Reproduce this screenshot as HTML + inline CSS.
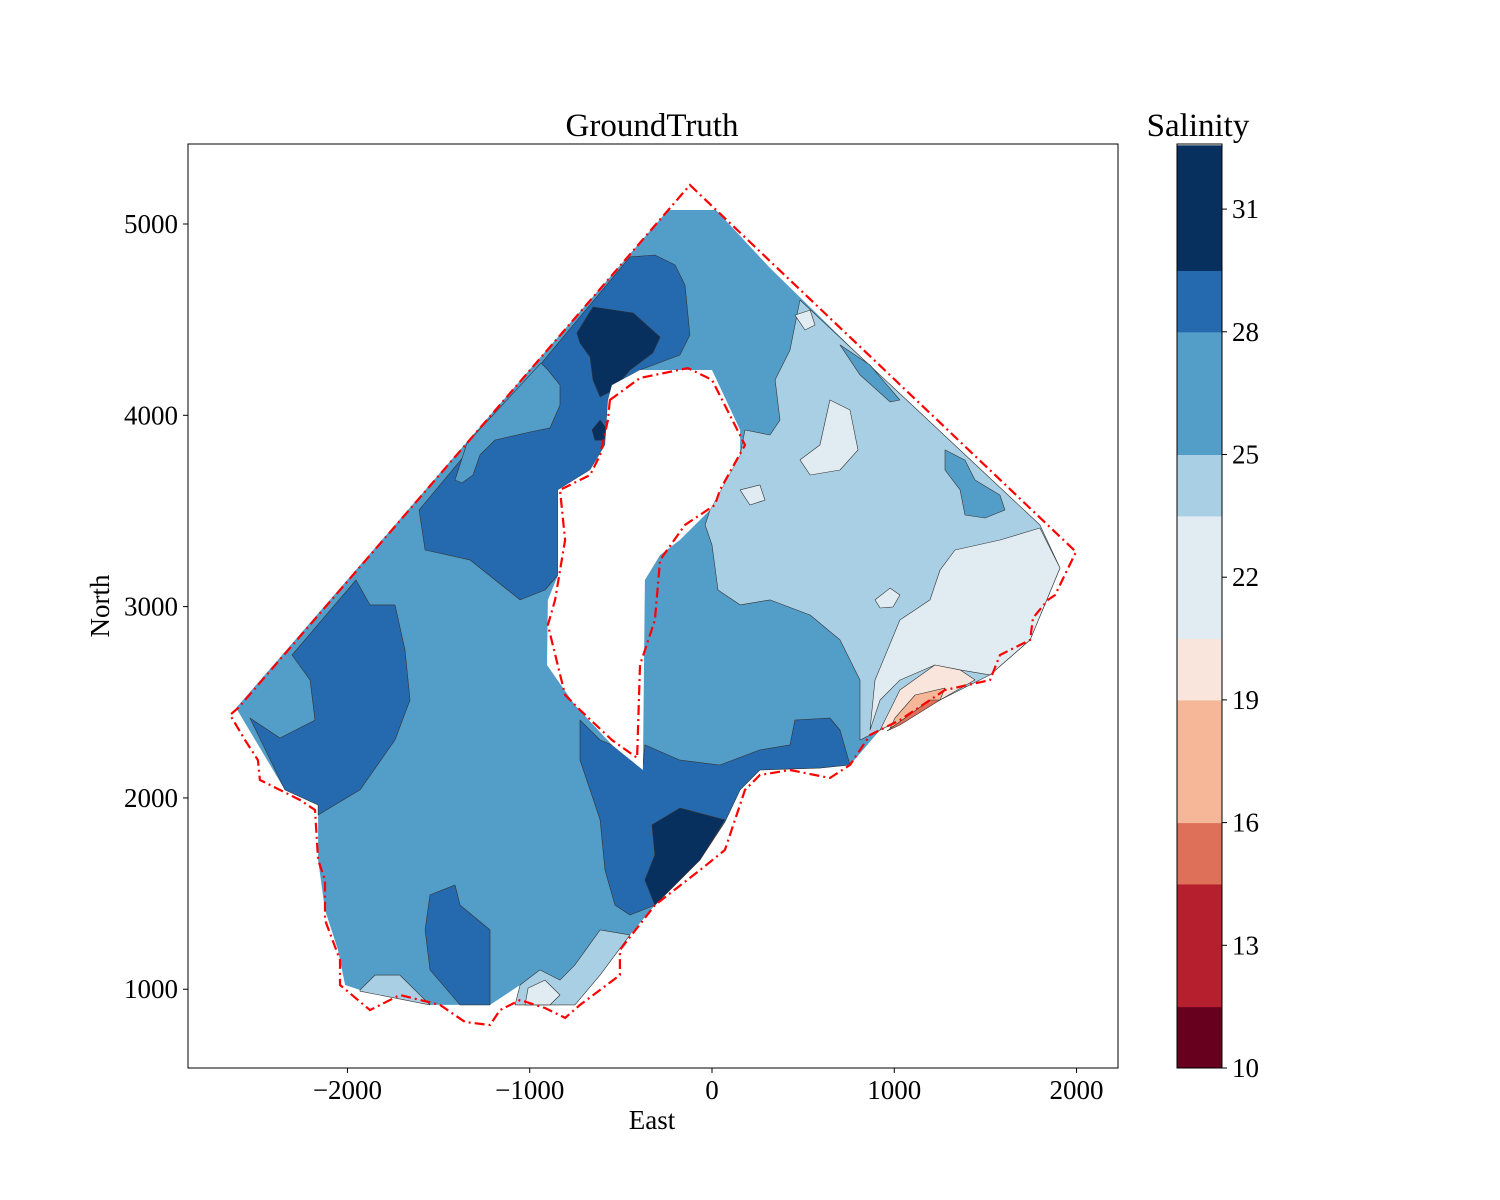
<!DOCTYPE html>
<html><head><meta charset="utf-8">
<style>
html,body{margin:0;padding:0;background:#fff;}
svg{display:block;font-family:"Liberation Serif",serif;}
</style></head>
<body>
<svg id="chart" width="1500" height="1200" viewBox="0 0 1500 1200" xmlns="http://www.w3.org/2000/svg">
<rect x="0" y="0" width="1500" height="1200" fill="#fff"/>
<g id="fills"></g>
<g id="bounds"></g>
<rect x="188" y="144" width="930" height="924" fill="none" stroke="#000" stroke-width="1"/>
<g id="axes"></g>
<text x="652" y="136" font-size="33" text-anchor="middle">GroundTruth</text>
<text x="652" y="1129" font-size="27" text-anchor="middle">East</text>
<text x="0" y="0" font-size="27" text-anchor="middle" transform="translate(109,606) rotate(-90)">North</text>
<text x="1198" y="136" font-size="33" text-anchor="middle">Salinity</text>
<g id="cbar"></g>
</svg>
<script>
const xTicks=[-2000,-1000,0,1000,2000];
const yTicks=[1000,2000,3000,4000,5000];
const cbLevels=[10,11.5,14.5,16,19,20.5,23.5,25,28,29.5,32.56];
const cbColors=["#67001f","#b61f2d","#de7059","#f5b798","#f9e5db","#e0ebf2","#a9cfe4","#539dc9","#2569ae","#08305e"];
const cbTicks=[10,13,16,19,22,25,28,31];
const domainPoly=[[-241,5073],[22,5073],[318,4770],[1031,4106],[1799,3427],[1909,3202],[1745,2826],[1525,2643],[1251,2512],[922,2355],[757,2172],[592,2156],[263,2146],[154,2042],[71,1874],[-66,1676],[-313,1440],[-450,1284],[-614,1074],[-752,918],[-834,996],[-1053,1022],[-1218,918],[-1547,918],[-1931,996],[-2013,1022],[-2052,1205],[-2123,1414],[-2161,1676],[-2161,1963],[-2343,2042],[-2611,2470]];
const darkBand=[[-450,4828],[-1607,3505],[-1574,3296],[-1328,3244],[-1053,3035],[-916,3087],[-845,3165],[-845,3610],[-669,3714],[-587,3845],[-571,4080],[-549,4158],[-395,4237],[-176,4315],[-121,4420],[-148,4681],[-203,4786],[-313,4838]];
const midBump=[[-938,4273],[-1344,3855],[-1410,3662],[-1372,3646],[-1311,3688],[-1273,3793],[-1190,3871],[-998,3913],[-889,3934],[-834,4054],[-834,4158],[-900,4237]];
const navyTop=[[-741,4430],[-653,4566],[-433,4535],[-285,4409],[-324,4326],[-450,4237],[-543,4132],[-614,4096],[-653,4185],[-669,4305],[-724,4378]];
const navySmall=[[-658,3923],[-614,3975],[-581,3933],[-592,3870],[-642,3870]];
const navyBottom=[[-329,1859],[-176,1947],[71,1885],[-66,1676],[-313,1440],[-368,1571],[-313,1702]];
const darkLeft=[[-1953,3139],[-2304,2747],[-2205,2616],[-2178,2407],[-2370,2313],[-2535,2418],[-2343,2042],[-2161,1963],[-2161,1911],[-1931,2042],[-1739,2303],[-1657,2512],[-1684,2773],[-1739,3009],[-1876,3009]];
const darkMid=[[-724,2407],[-614,2303],[-549,2277],[-379,2172],[-368,2277],[-176,2198],[44,2172],[263,2251],[428,2277],[455,2407],[647,2418],[702,2355],[757,2172],[592,2156],[263,2146],[154,2042],[71,1874],[-66,1676],[-313,1440],[-450,1388],[-532,1440],[-587,1623],[-614,1885],[-669,2042],[-724,2198]];
const darkBlob=[[-1547,1493],[-1410,1545],[-1382,1440],[-1218,1310],[-1218,918],[-1382,918],[-1547,1101],[-1574,1310]];
const lightRegion=[[483,4603],[1799,3427],[1909,3202],[1745,2826],[1525,2643],[1251,2512],[922,2355],[812,2303],[812,2616],[702,2826],[538,2956],[318,3035],[154,3009],[33,3087],[0,3322],[-38,3427],[-11,3505],[154,3793],[181,3923],[318,3897],[373,3975],[346,4185],[428,4341]];
const midIsle1=[[702,4368],[867,4263],[1031,4080],[977,4070],[812,4211]];
const midIsle2=[[1278,3819],[1388,3766],[1443,3662],[1580,3583],[1607,3505],[1498,3463],[1388,3479],[1361,3610],[1278,3714]];
const palest=[[1333,3296],[1580,3348],[1799,3411],[1909,3202],[1745,2826],[1525,2643],[1361,2669],[1223,2695],[1031,2616],[922,2512],[867,2355],[894,2616],[1031,2930],[1196,3035],[1251,3191]];
const paleA=[[483,3767],[592,3845],[647,4080],[757,4028],[801,3819],[702,3714],[538,3688]];
const paleB=[[154,3610],[263,3636],[291,3557],[208,3531]];
const paleC=[[894,3035],[977,3097],[1031,3061],[993,2998],[922,2993]];
const paleD=[[455,4524],[538,4550],[565,4472],[510,4446]];
const peach=[[922,2355],[1031,2564],[1223,2695],[1361,2669],[1443,2617],[1251,2512]];
const orange=[[977,2365],[1004,2418],[1114,2538],[1278,2574],[1251,2512]];
const redZone=[[960,2350],[1059,2418],[1196,2512],[1251,2512],[1031,2381]];
const lightBottom=[[-1081,918],[-1053,1022],[-944,1101],[-834,1048],[-752,1127],[-614,1310],[-450,1284],[-614,1074],[-752,918]];
const paleBottom=[[-1026,918],[-1009,1006],[-916,1048],[-834,970],[-889,918]];
const lightLeft=[[-1931,996],[-1849,1074],[-1712,1074],[-1547,918],[-1931,990]];
const hole=[[-549,4158],[-395,4237],[0,4237],[154,3923],[154,3793],[-11,3505],[-176,3348],[-285,3270],[-368,3139],[-379,2146],[-549,2277],[-752,2486],[-905,2695],[-900,3035],[-845,3165],[-845,3610],[-669,3714],[-587,3845],[-571,4080]];
const redOuter=[[-121,5204],[1997,3286],[1882,3061],[1843,3035],[1761,2941],[1745,2826],[1580,2747],[1525,2616],[1278,2564],[1031,2407],[867,2329],[757,2172],[647,2104],[428,2146],[263,2120],[181,2042],[71,1728],[-66,1623],[-313,1440],[-505,1205],[-505,1074],[-724,918],[-806,850],[-916,902],[-1053,944],[-1163,891],[-1218,813],[-1355,829],[-1492,918],[-1712,970],[-1876,891],[-2041,1022],[-2041,1153],[-2123,1362],[-2123,1571],[-2161,1676],[-2178,1937],[-2260,1989],[-2480,2094],[-2491,2198],[-2562,2303],[-2644,2434],[-2600,2470]];
const redHole=[[-560,4080],[-395,4195],[-132,4247],[0,4185],[181,3845],[44,3610],[16,3531],[-148,3427],[-285,3244],[-313,2930],[-395,2695],[-411,2209],[-549,2303],[-724,2460],[-806,2538],[-900,2904],[-861,3035],[-806,3348],[-834,3610],[-669,3688],[-614,3793],[-571,3975]];

const NS="http://www.w3.org/2000/svg";
function sx(e){return 712+e*0.18228;}
function sy(n){return 224+(5000-n)*0.19131;}
function cy(v){return 1068-(v-10)*40.9;}
function pts(a){return a.map(p=>sx(p[0]).toFixed(1)+","+sy(p[1]).toFixed(1)).join(" ");}
const fills=document.getElementById("fills");
function poly(parent,arr,fill,name,stroke){
  const el=document.createElementNS(NS,"polygon");
  el.setAttribute("points",pts(arr));
  el.setAttribute("fill",fill);
  if(stroke){el.setAttribute("stroke","#333");el.setAttribute("stroke-width","0.6");el.setAttribute("stroke-linejoin","round");}
  
  
  parent.appendChild(el);
}
poly(fills,domainPoly,"#539dc9","region-25-28",false);
poly(fills,darkBand,"#2569ae","region-28-north-band",true);
poly(fills,midBump,"#539dc9","region-25-28-bump",true);
poly(fills,navyTop,"#08305e","region-29-north",true);
poly(fills,navySmall,"#08305e","region-29-small",true);
poly(fills,darkLeft,"#2569ae","region-28-west",true);
poly(fills,darkMid,"#2569ae","region-28-south",true);
poly(fills,navyBottom,"#08305e","region-29-south",true);
poly(fills,darkBlob,"#2569ae","region-28-blob",true);
poly(fills,lightRegion,"#a9cfe4","region-23-25-east",true);
poly(fills,midIsle1,"#539dc9","region-25-isle-1",true);
poly(fills,midIsle2,"#539dc9","region-25-isle-2",true);
poly(fills,palest,"#e0ebf2","region-20-23-east",true);
poly(fills,paleA,"#e0ebf2","region-20-23-isle-a",true);
poly(fills,paleB,"#e0ebf2","region-20-23-isle-b",true);
poly(fills,paleC,"#e0ebf2","region-20-23-isle-c",true);
poly(fills,paleD,"#e0ebf2","region-20-23-isle-d",true);
poly(fills,peach,"#f9e5db","region-19-20",true);
poly(fills,orange,"#f5b798","region-16-19",true);
poly(fills,redZone,"#de7059","region-14-16",true);
poly(fills,lightBottom,"#a9cfe4","region-23-25-south",true);
poly(fills,paleBottom,"#e0ebf2","region-20-23-south",true);
poly(fills,lightLeft,"#a9cfe4","region-23-25-southwest",true);
poly(fills,hole,"#ffffff","island-hole",false);

const bounds=document.getElementById("bounds");
[[redOuter,"outer-boundary"],[redHole,"island-boundary"]].forEach(([arr,name])=>{
  const el=document.createElementNS(NS,"polygon");
  el.setAttribute("points",pts(arr));
  el.setAttribute("fill","none");
  el.setAttribute("stroke","#ff0000");
  el.setAttribute("stroke-width","2.2");
  el.setAttribute("stroke-dasharray","10 4 2 4");
  
  
  bounds.appendChild(el);
});

const axes=document.getElementById("axes");
xTicks.forEach(t=>{
  const x=sx(t);
  const l=document.createElementNS(NS,"line");
  l.setAttribute("x1",x);l.setAttribute("x2",x);l.setAttribute("y1",1068);l.setAttribute("y2",1073);l.setAttribute("stroke","#000");
  
  
  axes.appendChild(l);
  const tx=document.createElementNS(NS,"text");
  tx.setAttribute("x",x);tx.setAttribute("y",1099);tx.setAttribute("font-size","27");tx.setAttribute("text-anchor","middle");
  tx.textContent=(t<0?"\u2212":"")+Math.abs(t);
  
  
  axes.appendChild(tx);
});
yTicks.forEach(t=>{
  const y=sy(t);
  const l=document.createElementNS(NS,"line");
  l.setAttribute("x1",183);l.setAttribute("x2",188);l.setAttribute("y1",y);l.setAttribute("y2",y);l.setAttribute("stroke","#000");
  
  
  axes.appendChild(l);
  const tx=document.createElementNS(NS,"text");
  tx.setAttribute("x",178);tx.setAttribute("y",y+9);tx.setAttribute("font-size","27");tx.setAttribute("text-anchor","end");
  tx.textContent=t;
  
  
  axes.appendChild(tx);
});

const cbar=document.getElementById("cbar");
cbColors.forEach((c,i)=>{
  const y1=cy(cbLevels[i+1]),y0=cy(cbLevels[i]);
  const r=document.createElementNS(NS,"rect");
  r.setAttribute("x",1177);r.setAttribute("width",45);r.setAttribute("y",y1);r.setAttribute("height",y0-y1+0.5);r.setAttribute("fill",c);
  
  
  cbar.appendChild(r);
});
const fr=document.createElementNS(NS,"rect");
fr.setAttribute("x",1177);fr.setAttribute("y",144);fr.setAttribute("width",45);fr.setAttribute("height",924);fr.setAttribute("fill","none");fr.setAttribute("stroke","#000");


cbar.appendChild(fr);
cbTicks.forEach(t=>{
  const y=cy(t);
  const l=document.createElementNS(NS,"line");
  l.setAttribute("x1",1222);l.setAttribute("x2",1227);l.setAttribute("y1",y);l.setAttribute("y2",y);l.setAttribute("stroke","#000");
  
  
  cbar.appendChild(l);
  const tx=document.createElementNS(NS,"text");
  tx.setAttribute("x",1232);tx.setAttribute("y",y+9);tx.setAttribute("font-size","27");
  tx.textContent=t;
  
  
  cbar.appendChild(tx);
});
</script>
</body></html>
